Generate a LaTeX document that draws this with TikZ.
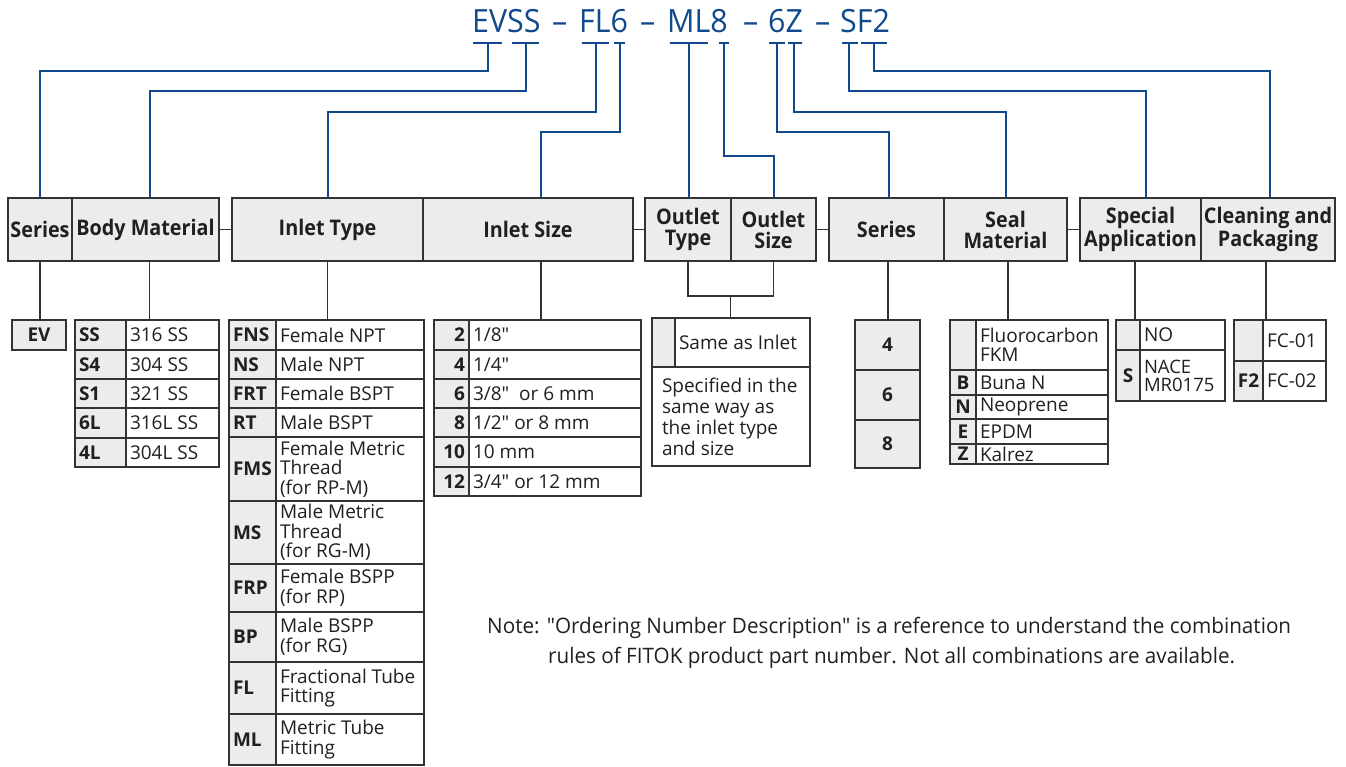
\documentclass[tikz,border=0pt]{standalone}
\usepackage{fontspec}
\setmainfont{Open Sans}[Ligatures=TeXOff]
\newfontfamily\hdrfont[FakeStretch=0.92,Ligatures=TeXOff]{Open Sans}
\newfontfamily\ttlfont[FakeStretch=0.95,Ligatures=TeXOff]{Open Sans}
\newfontfamily\notefont[FakeStretch=0.97,Ligatures=TeXOff]{Open Sans}
\usetikzlibrary{calc}
\definecolor{fblue}{HTML}{104A8C}
\definecolor{lc}{HTML}{333333}
\definecolor{gf}{HTML}{EBECED}
\definecolor{tc}{HTML}{231F20}
\newcommand\cell[8]{%
 \pgfmathsetmacro\cw{#4-#2}%
 \pgfmathsetmacro\ch{#5-#3}%
 \pgfmathsetmacro\cx{(#2+#4)/2}%
 \pgfmathsetmacro\cy{(#3+#5)/2}%
 \node[box,#6,minimum width=\cw pt,minimum height=\ch pt] (#1) at (\cx,\cy) {};%
 \if\relax\detokenize{#8}\relax\else
 \node[lbl,#6t,anchor=#7] (#1t) at (#1.#7) {#8};%
 \fi
}
\tikzset{
 box/.style={draw=lc, line width=1.3pt, inner sep=0pt, outer sep=0pt},
 lbl/.style={inner xsep=4pt, inner ysep=0pt, outer sep=0pt},
 hd/.style={fill=gf},
 hdt/.style={font=\hdrfont\bfseries\fontsize{21.5}{21}\selectfont, align=center, text=tc},
 cd/.style={fill=gf},
 cdt/.style={font=\bfseries\fontsize{19}{19.5}\selectfont, text=tc},
 ds/.style={fill=white},
 dst/.style={font=\fontsize{19}{19.5}\selectfont, align=left, text=tc},
 dsw/.style={fill=white},
 dswt/.style={font=\fontsize{19}{21}\selectfont, align=left, text=tc, inner xsep=10pt},
 dsn/.style={fill=white},
 dsnt/.style={font=\fontsize{18.5}{18}\selectfont, align=left, text=tc},
 ln/.style={draw=lc, line width=1.3pt},
 bl/.style={draw=fblue, line width=2pt},
 ttl/.style={font=\ttlfont\fontsize{32}{32}\selectfont, text=fblue, inner sep=0pt, anchor=base west},
 note/.style={font=\notefont\fontsize{21.3}{21}\selectfont, text=tc, inner sep=0pt, anchor=base west},
}
\begin{document}
\begin{tikzpicture}[x=1pt,y=-1pt]
\useasboundingbox (0,0) rectangle (1346,767);
% ---- title ----
\node[ttl] (t1) at (472,33) {EVSS};
\node[ttl] (d1) at (552,33) {–};
\node[ttl] (t2) at (579,33) {FL6};
\node[ttl] (d2) at (640,33) {–};
\node[ttl] (t3) at (667,33) {ML8};
\node[ttl] (d3) at (743,33) {–};
\node[ttl] (t4) at (768,33) {6Z};
\node[ttl] (d4) at (815,33) {–};
\node[ttl] (t5) at (840,33) {SF2};
\coordinate (sEV) at (488,43);
\coordinate (sSS) at (526,43);
\coordinate (sFL) at (596,43);
\coordinate (s6) at (620,43);
\coordinate (sML) at (689,43);
\coordinate (s8) at (724,43);
\coordinate (s6b) at (777,43);
\coordinate (sZ) at (794,43);
\coordinate (sS) at (849,43);
\coordinate (sF2) at (874,43);
% ---- header boxes ----
\cell{hSer}{8}{198}{72}{261}{hd}{center}{Series}
\cell{hBody}{72}{198}{219}{261}{hd}{center}{Body Material}
\cell{hIT}{232}{198}{423}{261}{hd}{center}{Inlet Type}
\cell{hIS}{423}{198}{633}{261}{hd}{center}{Inlet Size}
\cell{hOT}{645}{198}{731}{261}{hd}{center}{Outlet\\Type}
\cell{hOS}{731}{198}{816}{261}{hd}{center}{Outlet\\Size}
\cell{hSer2}{829}{198}{944}{261}{hd}{center}{Series}
\cell{hSeal}{944}{198}{1067}{261}{hd}{center}{Seal\\Material}
\cell{hSpec}{1080}{198}{1201}{261}{hd}{center}{Special\\Application}
\cell{hClean}{1201}{198}{1335}{261}{hd}{center}{Cleaning and\\Packaging}
% ---- EV ----
\cell{cEV}{12}{320}{66}{350}{cd}{center}{EV}
% ---- body material ----
\cell{bSS}{75}{320}{126}{350}{cd}{west}{SS}\cell{bSSd}{126}{320}{219}{350}{ds}{west}{316 SS}
\cell{bS4}{75}{350}{126}{379}{cd}{west}{S4}\cell{bS4d}{126}{350}{219}{379}{ds}{west}{304 SS}
\cell{bS1}{75}{379}{126}{408}{cd}{west}{S1}\cell{bS1d}{126}{379}{219}{408}{ds}{west}{321 SS}
\cell{b6L}{75}{408}{126}{438}{cd}{west}{6L}\cell{b6Ld}{126}{408}{219}{438}{ds}{west}{316L SS}
\cell{b4L}{75}{438}{126}{467}{cd}{west}{4L}\cell{b4Ld}{126}{438}{219}{467}{ds}{west}{304L SS}
% ---- inlet type ----
\cell{iFNS}{229}{320}{276}{350}{cd}{west}{FNS}\cell{iFNSd}{276}{320}{424}{350}{ds}{west}{Female NPT}
\cell{iNS}{229}{350}{276}{379}{cd}{west}{NS}\cell{iNSd}{276}{350}{424}{379}{ds}{west}{Male NPT}
\cell{iFRT}{229}{379}{276}{408}{cd}{west}{FRT}\cell{iFRTd}{276}{379}{424}{408}{ds}{west}{Female BSPT}
\cell{iRT}{229}{408}{276}{437}{cd}{west}{RT}\cell{iRTd}{276}{408}{424}{437}{ds}{west}{Male BSPT}
\cell{iFMS}{229}{437}{276}{501}{cd}{west}{FMS}\cell{iFMSd}{276}{437}{424}{501}{ds}{west}{Female Metric\\Thread\\(for RP-M)}
\cell{iMS}{229}{501}{276}{564}{cd}{west}{MS}\cell{iMSd}{276}{501}{424}{564}{ds}{west}{Male Metric\\Thread\\(for RG-M)}
\cell{iFRP}{229}{564}{276}{612}{cd}{west}{FRP}\cell{iFRPd}{276}{564}{424}{612}{ds}{west}{Female BSPP\\(for RP)}
\cell{iBP}{229}{612}{276}{662}{cd}{west}{BP}\cell{iBPd}{276}{612}{424}{662}{ds}{west}{Male BSPP\\(for RG)}
\cell{iFL}{229}{662}{276}{714}{cd}{west}{FL}\cell{iFLd}{276}{662}{424}{714}{ds}{west}{Fractional Tube\\Fitting}
\cell{iML}{229}{714}{276}{765}{cd}{west}{ML}\cell{iMLd}{276}{714}{424}{765}{ds}{west}{Metric Tube\\Fitting}
% ---- inlet size ----
\cell{z2}{434}{320}{469}{350}{cd}{east}{2}\cell{z2d}{469}{320}{641}{350}{ds}{west}{1/8"}
\cell{z4}{434}{350}{469}{379}{cd}{east}{4}\cell{z4d}{469}{350}{641}{379}{ds}{west}{1/4"}
\cell{z6}{434}{379}{469}{408}{cd}{east}{6}\cell{z6d}{469}{379}{641}{408}{ds}{west}{3/8"\ \ or 6 mm}
\cell{z8}{434}{408}{469}{437}{cd}{east}{8}\cell{z8d}{469}{408}{641}{437}{ds}{west}{1/2" or 8 mm}
\cell{z10}{434}{437}{469}{467}{cd}{east}{10}\cell{z10d}{469}{437}{641}{467}{ds}{west}{10 mm}
\cell{z12}{434}{467}{469}{496}{cd}{east}{12}\cell{z12d}{469}{467}{641}{496}{ds}{west}{3/4" or 12 mm}
% ---- outlet ----
\cell{oG}{652}{318}{675}{367}{cd}{center}{}
\cell{oSame}{675}{318}{810}{367}{ds}{west}{Same as Inlet}
\cell{oSpec}{652}{367}{810}{466}{dsw}{west}{Specified in the\\same way as\\the inlet type\\and size}
% ---- series ----
\cell{r4}{855}{320}{920}{370}{cd}{center}{4}
\cell{r6}{855}{370}{920}{420}{cd}{center}{6}
\cell{r8}{855}{420}{920}{468}{cd}{center}{8}
% ---- seal ----
\cell{sl1}{950}{320}{976}{370}{cd}{center}{}\cell{sl1d}{976}{320}{1108}{370}{ds}{west}{Fluorocarbon\\FKM}
\cell{slB}{950}{370}{976}{395}{cd}{center}{B}\cell{slBd}{976}{370}{1108}{395}{ds}{west}{Buna N}
\cell{slN}{950}{395}{976}{419}{cd}{center}{N}\cell{slNd}{976}{395}{1108}{419}{ds}{west}{Neoprene}
\cell{slE}{950}{419}{976}{444}{cd}{center}{E}\cell{slEd}{976}{419}{1108}{444}{ds}{west}{EPDM}
\cell{slZ}{950}{444}{976}{464}{cd}{center}{Z}\cell{slZd}{976}{444}{1108}{464}{ds}{west}{Kalrez}
% ---- special ----
\cell{sp1}{1116}{320}{1140}{350}{cd}{center}{}\cell{sp1d}{1140}{320}{1225}{350}{ds}{west}{NO}
\cell{spS}{1116}{350}{1140}{401}{cd}{center}{S}\cell{spSd}{1140}{350}{1225}{401}{dsn}{west}{NACE\\MR0175}
% ---- cleaning ----
\cell{cl1}{1234}{320}{1263}{361}{cd}{center}{}\cell{cl1d}{1263}{320}{1326}{361}{ds}{west}{FC-01}
\cell{clF}{1234}{361}{1263}{401}{cd}{center}{F2}\cell{clFd}{1263}{361}{1326}{401}{ds}{west}{FC-02}
% ---- note ----
\node[note] (n1) at (487,633) {Note: "Ordering Number Description" is a reference to understand the combination};
\node[note] (n2) at (548,663) {rules of FITOK product part number. Not all combinations are available.};
% ---- blue connectors ----
\coordinate (aBody) at ([xshift=4.5pt]hBody.north);
\coordinate (aIS) at ([xshift=13pt]hIS.north);
\coordinate (aSer2) at ([xshift=2.5pt]hSer2.north);
\coordinate (aSpec) at ([xshift=5.5pt]hSpec.north);
\coordinate (aClean) at ([xshift=2pt]hClean.north);
\draw[bl] (sEV) ++(-15,0) -- ++(29,0);
\draw[bl] (sSS) ++(-14,0) -- ++(27,0);
\draw[bl] (sFL) ++(-14,0) -- ++(27,0);
\draw[bl] (s6) ++(-6,0) -- ++(11,0);
\draw[bl] (sML) ++(-19,0) -- ++(38,0);
\draw[bl] (s8) ++(-5,0) -- ++(10,0);
\draw[bl] (s6b) ++(-8,0) -- ++(16,0);
\draw[bl] (sZ) ++(-6,0) -- ++(14,0);
\draw[bl] (sS) ++(-7,0) -- ++(16,0);
\draw[bl] (sF2) ++(-13,0) -- ++(26,0);
\draw[bl] (sEV) -- ++(0,28) -| (hSer.north);
\draw[bl] (sSS) -- ++(0,48) -| (aBody);
\draw[bl] (sFL) -- ++(0,69) -| (hIT.north);
\draw[bl] (s6) -- ++(0,89) -| (aIS);
\draw[bl] (sML) -- (sML |- hOT.north);
\draw[bl] (s8) -- ++(0,113) -| (hOS.north);
\draw[bl] (s6b) -- ++(0,89) -| (aSer2);
\draw[bl] (sZ) -- ++(0,69) -| (hSeal.north);
\draw[bl] (sS) -- ++(0,48) -| (aSpec);
\draw[bl] (sF2) -- ++(0,28) -| (aClean);
% ---- black connectors ----
\draw[ln] (hBody.east) -- (hIT.west);
\draw[ln] (hIS.east) -- (hOT.west);
\draw[ln] (hOS.east) -- (hSer2.west);
\draw[ln] (hSeal.east) -- (hSpec.west);
\draw[ln] (hSer.south) -- (hSer.south |- cEV.north);
\coordinate (dBody) at ([xshift=4pt]hBody.south);
\draw[ln] (dBody) -- (dBody |- bSS.north);
\draw[ln] (hIT.south) -- (hIT.south |- iFNS.north);
\coordinate (dIS) at ([xshift=13pt]hIS.south);
\draw[ln] (dIS) -- (dIS |- z2.north);
\draw[ln] (hOT.south) -- ++(0,35) -| (hOS.south);
\coordinate (oJ) at ($(hOT.south)!.5!(hOS.south)+(0,35)$);
\draw[ln] (oJ) -- (oJ |- oSame.north);
\coordinate (dSer2) at ([xshift=1.5pt]hSer2.south);
\draw[ln] (dSer2) -- (dSer2 |- r4.north);
\coordinate (dSeal) at ([xshift=2.5pt]hSeal.south);
\draw[ln] (dSeal) -- (dSeal |- sl1.north);
\coordinate (dSpec) at ([xshift=-5.5pt]hSpec.south);
\draw[ln] (dSpec) -- (dSpec |- sp1.north);
\coordinate (dClean) at ([xshift=-2pt]hClean.south);
\draw[ln] (dClean) -- (dClean |- cl1.north);
\end{tikzpicture}
\end{document}
